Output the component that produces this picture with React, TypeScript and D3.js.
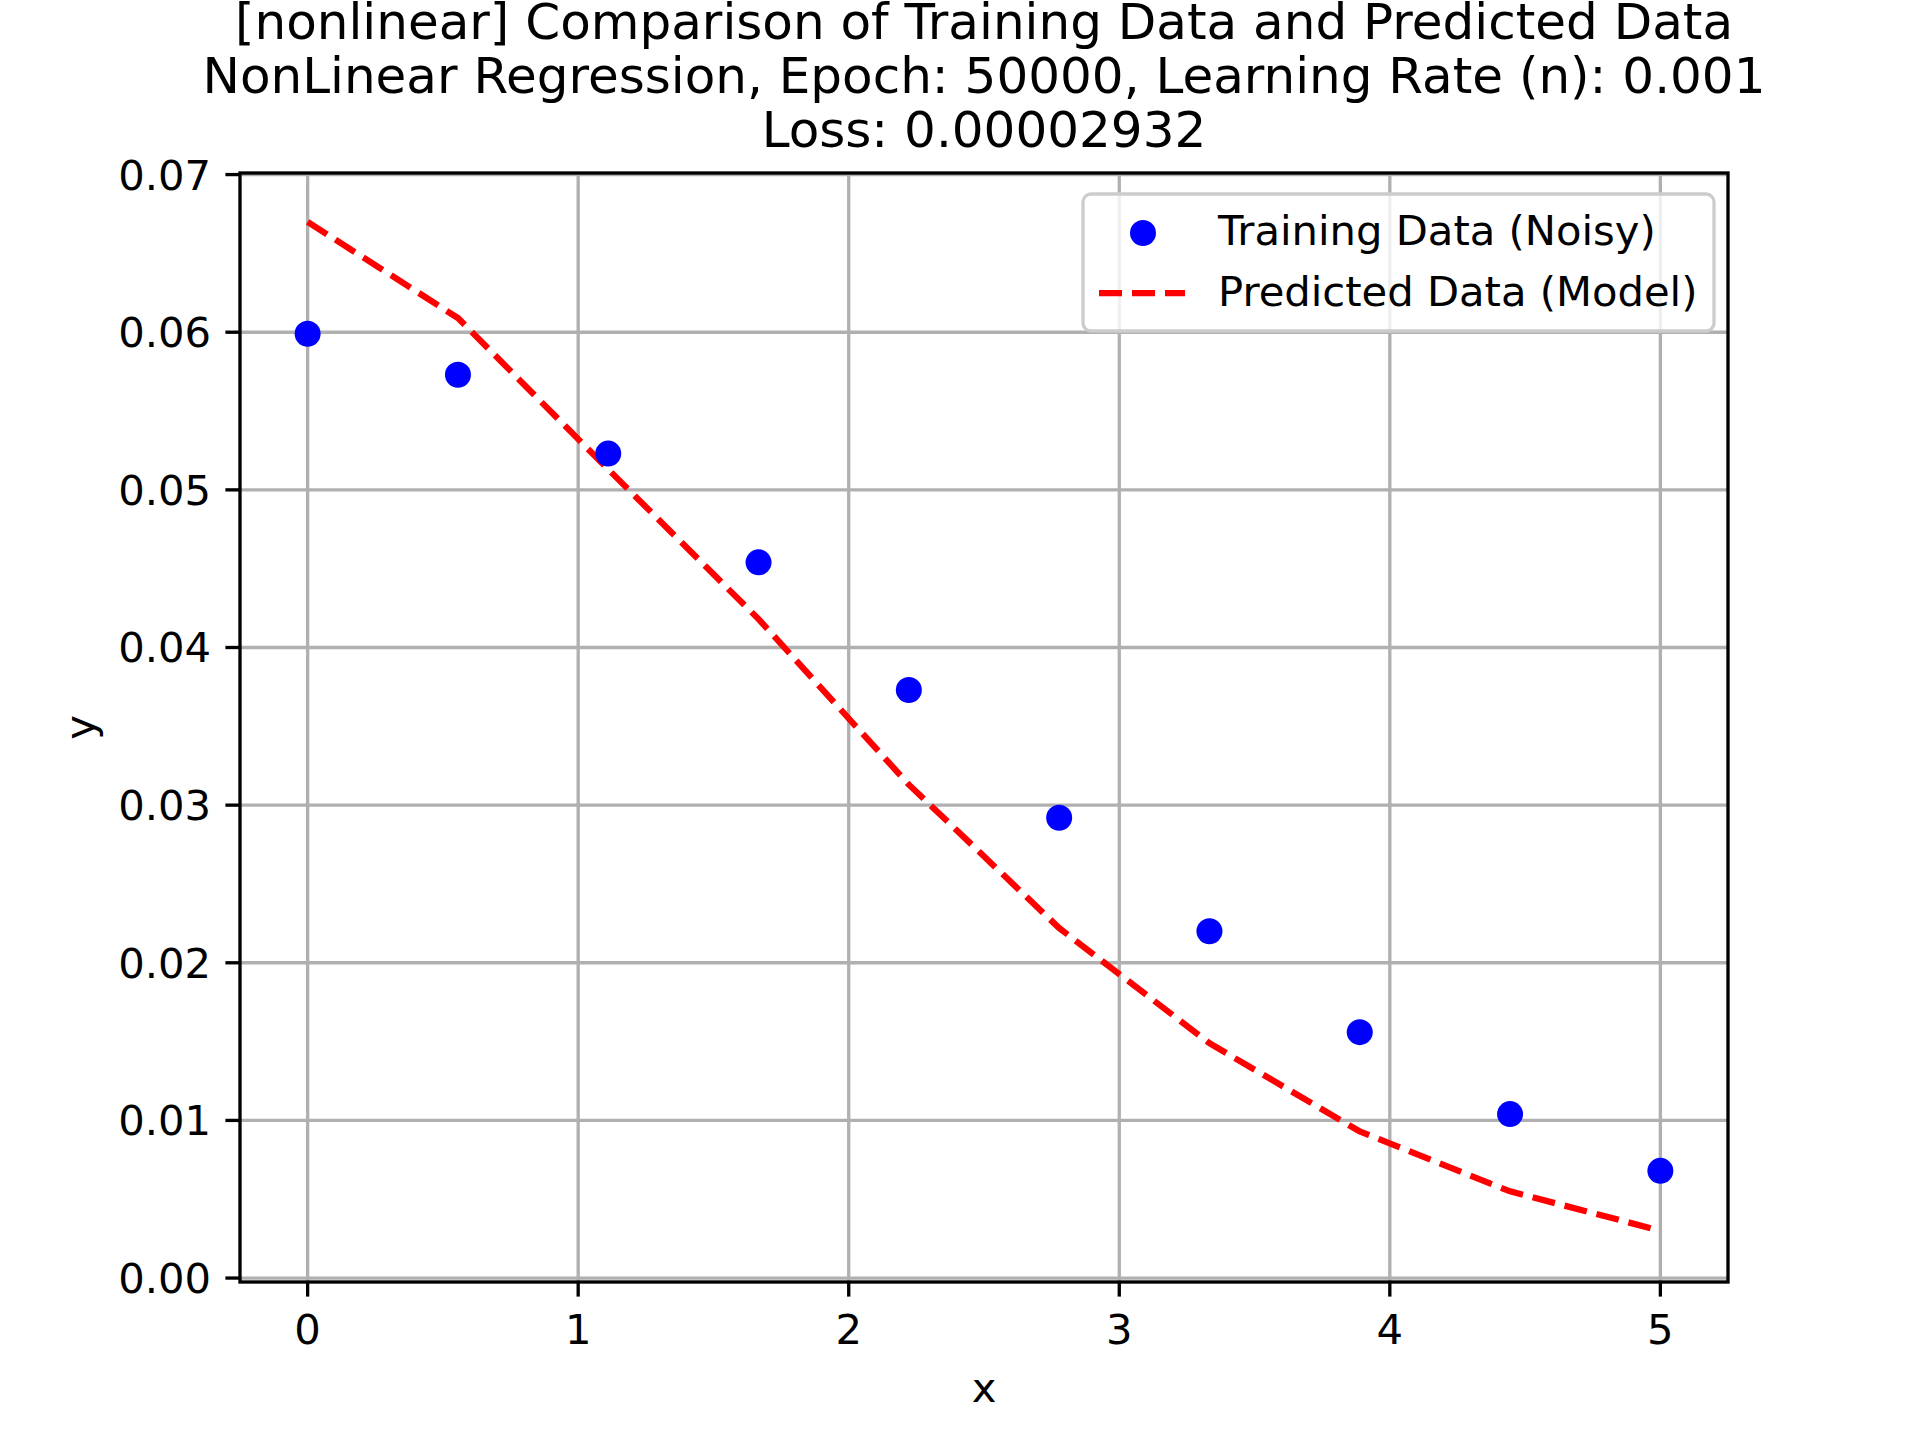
import React from "react";
import * as d3 from "d3";

const xs = [0, 0.5556, 1.1111, 1.6667, 2.2222, 2.7778, 3.3333, 3.8889, 4.4444, 5];
const trainY = [0.0599, 0.0573, 0.0523, 0.0454, 0.0373, 0.0292, 0.022, 0.0156, 0.0104, 0.0068];
const predY = [0.067, 0.0609, 0.0513, 0.0418, 0.0313, 0.0222, 0.0149, 0.0093, 0.0055, 0.003];
const xTicks = [0, 1, 2, 3, 4, 5];
const yTicks = [0, 0.01, 0.02, 0.03, 0.04, 0.05, 0.06, 0.07];
const titleLines = [
  "[nonlinear] Comparison of Training Data and Predicted Data",
  "NonLinear Regression, Epoch: 50000, Learning Rate (n): 0.001",
  "Loss: 0.00002932",
];

const W = 1920, H = 1440;
const L = 240, R = 1728, T = 173, B = 1282;
const font = "DejaVu Sans";

export default function App() {
  const x = d3.scaleLinear().domain([-0.25, 5.25]).range([L, R]);
  const y = d3.scaleLinear().domain([-0.00025, 0.0701]).range([B, T]);
  const line = d3.line<number>().x((_, i) => x(xs[i])).y((d) => y(d));
  return (
    <svg width={W} height={H} style={{ display: "block", position: "absolute", left: 0, top: 0 }} fontFamily={font}>
      <rect width={W} height={H} fill="#fff" />
      {xTicks.map((t) => (
        <line key={"gx" + t} x1={x(t)} x2={x(t)} y1={T} y2={B} stroke="#b0b0b0" strokeWidth={3.33} />
      ))}
      {yTicks.map((t) => (
        <line key={"gy" + t} x1={L} x2={R} y1={y(t)} y2={y(t)} stroke="#b0b0b0" strokeWidth={3.33} />
      ))}
      <path d={line(predY) || ""} fill="none" stroke="red" strokeWidth={6.25} strokeDasharray="23 10" />
      {trainY.map((v, i) => (
        <circle key={i} cx={x(xs[i])} cy={y(v)} r={13} fill="blue" />
      ))}
      <rect x={L} y={T} width={R - L} height={B - T} fill="none" stroke="#000" strokeWidth={3.33} />
      {xTicks.map((t) => (
        <g key={"tx" + t}>
          <line x1={x(t)} x2={x(t)} y1={B} y2={B + 14.6} stroke="#000" strokeWidth={3.33} />
          <text x={x(t)} y={B + 62} fontSize={41.7} textAnchor="middle">{t}</text>
        </g>
      ))}
      {yTicks.map((t) => (
        <g key={"ty" + t}>
          <line x1={L} x2={L - 14.6} y1={y(t)} y2={y(t)} stroke="#000" strokeWidth={3.33} />
          <text x={L - 29} y={y(t) + 15} fontSize={41.7} textAnchor="end">{t.toFixed(2)}</text>
        </g>
      ))}
      <text x={(L + R) / 2} y={1402} fontSize={41.7} textAnchor="middle">x</text>
      <text transform={`translate(94,${(T + B) / 2}) rotate(-90)`} fontSize={41.7} textAnchor="middle">y</text>
      {titleLines.map((s, i) => (
        <text key={i} x={(L + R) / 2} y={39 + i * 54} fontSize={50} textAnchor="middle">{s}</text>
      ))}
      <g>
        <rect x={1083} y={194} width={631} height={137} rx={8} fill="#fff" fillOpacity={0.8} stroke="#ccc" strokeWidth={3.33} />
        <circle cx={1143} cy={233} r={13} fill="blue" />
        <line x1={1099} x2={1185} y1={293} y2={293} stroke="red" strokeWidth={6.25} strokeDasharray="23 10" />
        <text x={1218} y={245} fontSize={41.7}>Training Data (Noisy)</text>
        <text x={1218} y={306} fontSize={41.7}>Predicted Data (Model)</text>
      </g>
    </svg>
  );
}
